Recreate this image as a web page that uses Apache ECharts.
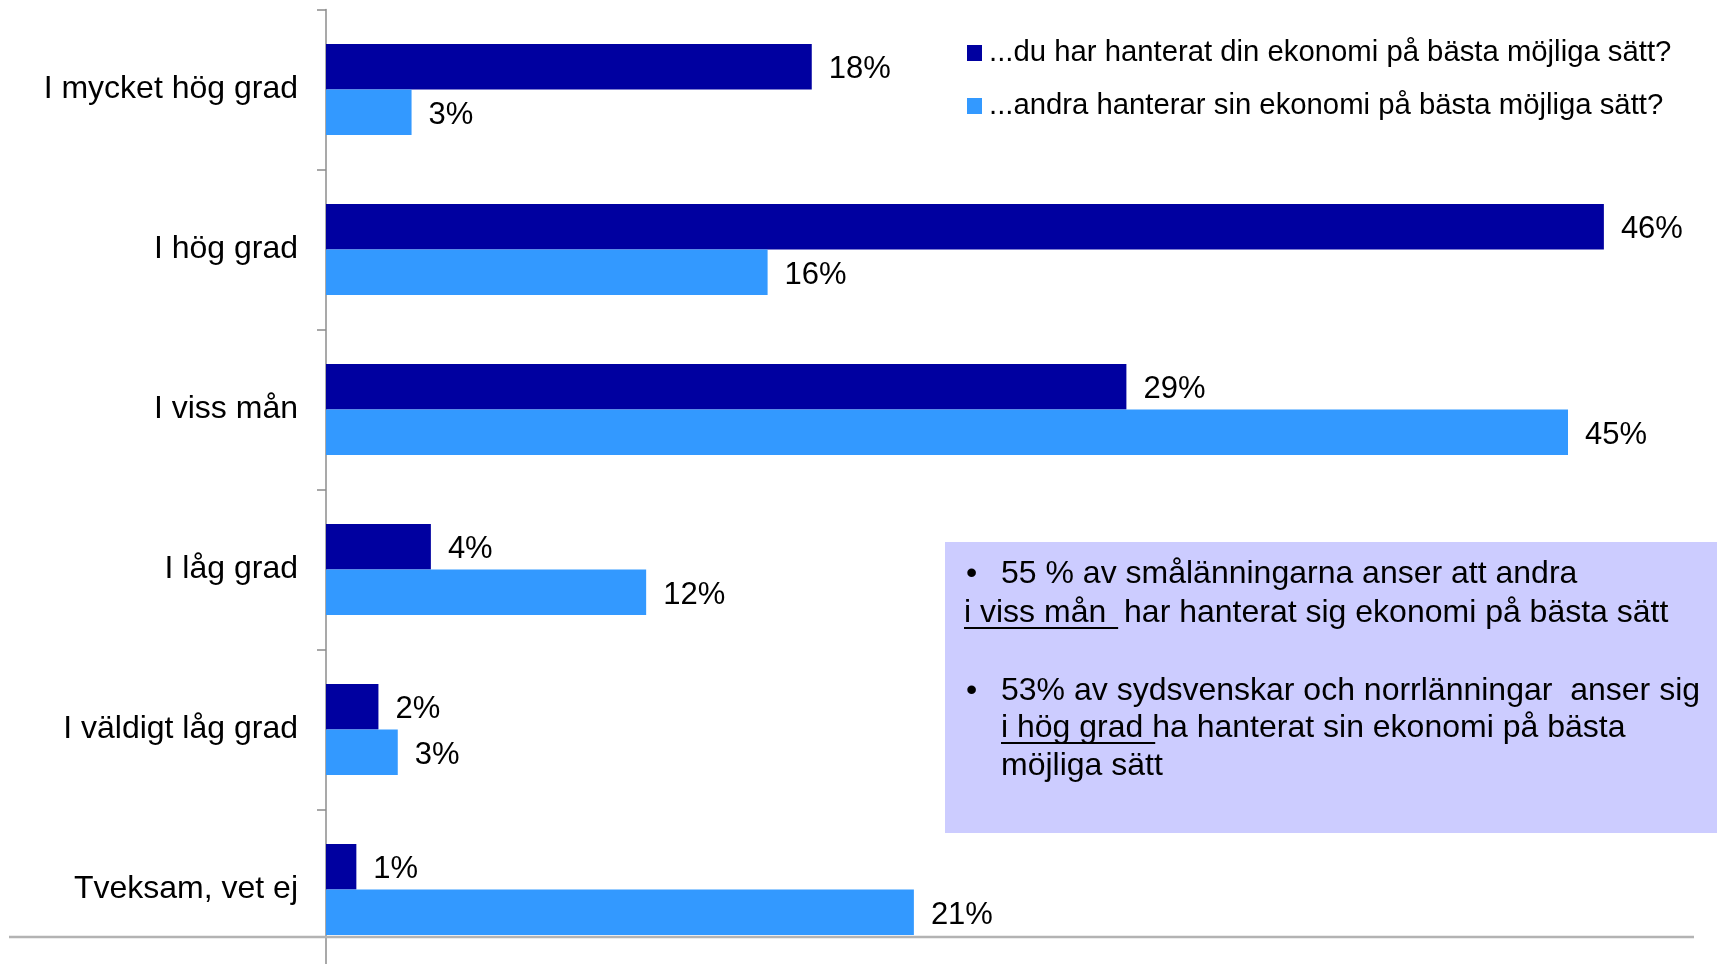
<!DOCTYPE html>
<html>
<head>
<meta charset="utf-8">
<script src="https://cdn.jsdelivr.net/npm/echarts@6/dist/echarts.min.js"></script>
<style>
html,body{margin:0;padding:0;background:#fff;overflow:hidden;}
#c{width:1717px;height:1000px;}
</style>
</head>
<body>
<div id="c"></div>
<script>
const categories = ['I mycket hög grad', 'I hög grad', 'I viss mån', 'I låg grad', 'I väldigt låg grad', 'Tveksam, vet ej'];
const seriesNames = ['...du har hanterat din ekonomi på bästa möjliga sätt?', '...andra hanterar sin ekonomi på bästa möjliga sätt?'];
const ownValues = [17.6, 46.3, 29.0, 3.8, 1.9, 1.1];
const othersValues = [3.1, 16.0, 45.0, 11.6, 2.6, 21.3];
const noteLines = [
  {bullet: true, text: '55 % av smålänningarna anser att andra', under: ''},
  {bullet: false, indent: false, text: ' har hanterat sig ekonomi på bästa sätt', under: 'i viss mån '},
  {bullet: true, text: '53% av sydsvenskar och norrlänningar  anser sig', under: ''},
  {bullet: false, indent: true, text: 'ha hanterat sin ekonomi på bästa', under: 'i hög grad '},
  {bullet: false, indent: true, text: 'möjliga sätt', under: ''}
];

const FONT = '"Liberation Sans", Arial, sans-serif';
const chart = echarts.init(document.getElementById('c'));

const noteFontSize = 32;
const measureCtx = document.createElement('canvas').getContext('2d');
measureCtx.font = noteFontSize + 'px ' + FONT;

const baselines = [585, 624, 702, 739, 777];
const graphics = [
  {type: 'rect', shape: {x: 945, y: 542, width: 772, height: 291}, style: {fill: '#ccccff'}, z: 1},
  {type: 'line', shape: {x1: 9, y1: 937, x2: 1694, y2: 937}, style: {stroke: '#b3b3b3', lineWidth: 2.5}, z: 5}
];
noteLines.forEach((ln, i) => {
  const midY = baselines[i] - 0.3465 * noteFontSize;
  let x = (ln.bullet || ln.indent) ? 1001 : 964;
  if (ln.bullet) {
    graphics.push({type: 'text', x: 966, y: midY, z: 10,
      style: {text: '•', font: noteFontSize + 'px ' + FONT, fill: '#000', verticalAlign: 'middle', align: 'left'}});
  }
  if (ln.under) {
    const w = measureCtx.measureText(ln.under).width;
    graphics.push({type: 'text', x: x, y: midY, z: 10,
      style: {text: ln.under, font: noteFontSize + 'px ' + FONT, fill: '#000', verticalAlign: 'middle', align: 'left'}});
    graphics.push({type: 'line', z: 10, shape: {x1: x, y1: baselines[i] + 4, x2: x + w + 3, y2: baselines[i] + 4},
      style: {stroke: '#000', lineWidth: 2}});
    x += w;
  }
  graphics.push({type: 'text', x: x, y: midY, z: 10,
    style: {text: ln.text, font: noteFontSize + 'px ' + FONT, fill: '#000', verticalAlign: 'middle', align: 'left'}});
});

const labelOpt = {
  show: true, position: 'right', distance: 17, offset: [0, 3],
  fontSize: 31, fontFamily: FONT, color: '#000',
  formatter: p => Math.round(p.value) + '%'
};

chart.setOption({
  animation: false,
  backgroundColor: '#fff',
  textStyle: {fontFamily: FONT},
  grid: {left: 326, top: 9.5, width: 1380, height: 960, containLabel: false},
  legend: {
    orient: 'vertical', left: 967, top: 38, padding: 0,
    itemWidth: 15, itemHeight: 16, itemGap: 23,
    icon: 'rect',
    data: seriesNames,
    textStyle: {fontSize: 29.3, fontFamily: FONT, color: '#000', lineHeight: 30, padding: [0, 0, 0, 2]}
  },
  xAxis: {type: 'value', min: 0, max: 50, show: false},
  yAxis: {
    type: 'category', data: categories, inverse: true,
    axisLine: {show: true, lineStyle: {color: '#8c8c8c', width: 1.5}},
    axisTick: {show: true, length: 9, inside: false, lineStyle: {color: '#8c8c8c', width: 1.5}},
    axisLabel: {fontSize: 32, fontFamily: FONT, color: '#000', margin: 28, padding: [2, 0, 0, 0]},
    splitLine: {show: false}
  },
  series: [
    {name: seriesNames[0], type: 'bar', data: ownValues, barWidth: 45.5, barGap: '0%',
     itemStyle: {color: '#0000a0'}, label: labelOpt},
    {name: seriesNames[1], type: 'bar', data: othersValues, barWidth: 45.5, barGap: '0%',
     itemStyle: {color: '#3399ff'}, label: labelOpt}
  ],
  graphic: graphics
});
</script>
</body>
</html>
